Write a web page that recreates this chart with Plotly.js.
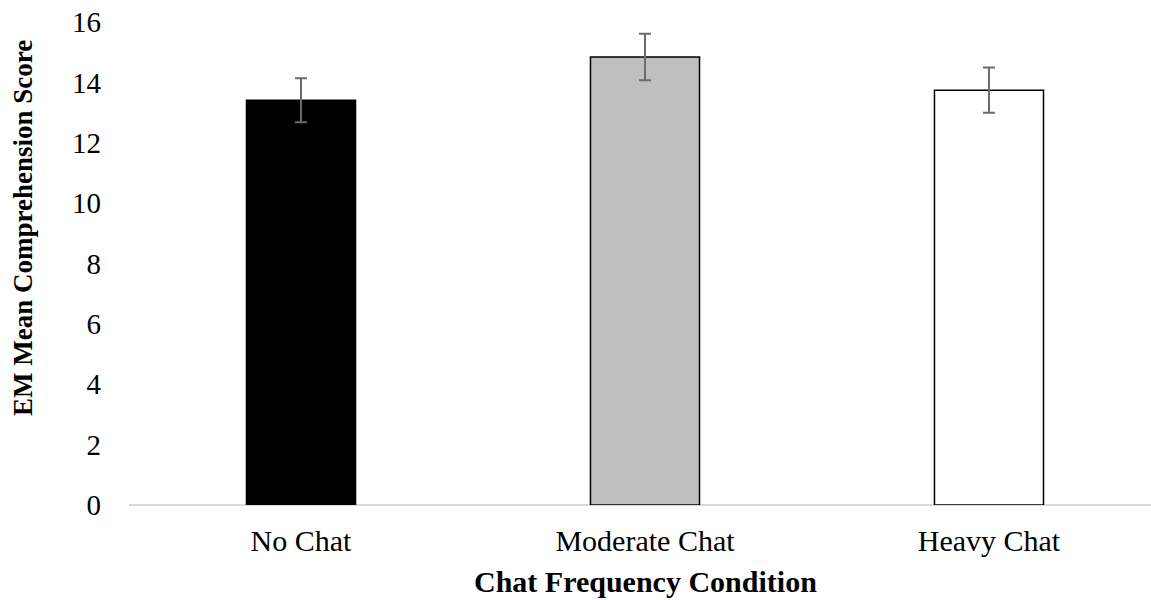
<!DOCTYPE html>
<html>
<head>
<meta charset="utf-8">
<script src="https://cdn.plot.ly/plotly-3.0.1.min.js"></script>
<style>html,body{margin:0;padding:0;background:#fff;}#chart{width:1151px;height:600px;}</style>
</head>
<body>
<div id="chart"></div>
<script>
var categories = ["No Chat", "Moderate Chat", "Heavy Chat"];
var meanScores = [13.41, 14.84, 13.74];
var errorValues = [0.73, 0.77, 0.75];
var yTickValues = [0, 2, 4, 6, 8, 10, 12, 14, 16];

var barFill = ["#000000", "#bfbfbf", "#ffffff"];
var barLine = ["#000000", "#000000", "#000000"];

var trace = {
  type: "bar",
  x: categories,
  y: meanScores,
  marker: { color: barFill, line: { color: barLine, width: 1.5 } },
  error_y: { type: "data", array: errorValues, visible: true, color: "#6b6b6b", thickness: 2, width: 6 },
  hoverinfo: "x+y"
};

var serif = "Liberation Serif, Times New Roman, serif";

var layout = {
  width: 1151,
  height: 600,
  margin: { l: 129, r: 0, t: 22, b: 95 },
  paper_bgcolor: "#ffffff",
  plot_bgcolor: "#ffffff",
  bargap: 0.683,
  showlegend: false,
  font: { family: serif, color: "#000000", size: 29 },
  xaxis: {
    type: "category",
    range: [-0.5, 2.471],
    showgrid: false,
    showline: false,
    zeroline: false,
    ticks: "",
    ticklabelstandoff: 15,
    tickfont: { family: serif, size: 30, color: "#000000" },
    fixedrange: true
  },
  yaxis: {
    range: [0, 16],
    tickvals: yTickValues,
    ticktext: yTickValues.map(String),
    showgrid: false,
    showline: false,
    zeroline: true,
    zerolinecolor: "#d9d9d9",
    zerolinewidth: 1.5,
    ticks: "",
    ticklabelstandoff: 27,
    tickfont: { family: serif, size: 29, color: "#000000" },
    fixedrange: true
  },
  annotations: [
    {
      text: "<b>EM Mean Comprehension Score</b>",
      xref: "paper", yref: "paper",
      x: -0.1037, y: 0.5735,
      xanchor: "center", yanchor: "middle",
      textangle: -90, showarrow: false,
      font: { family: serif, size: 27, color: "#000000" }
    },
    {
      text: "<b>Chat Frequency Condition</b>",
      xref: "paper", yref: "paper",
      x: 0.505, y: -0.158,
      xanchor: "center", yanchor: "middle",
      showarrow: false,
      font: { family: serif, size: 30, color: "#000000" }
    }
  ]
};

Plotly.newPlot("chart", [trace], layout, { displayModeBar: false, staticPlot: true });
</script>
</body>
</html>
